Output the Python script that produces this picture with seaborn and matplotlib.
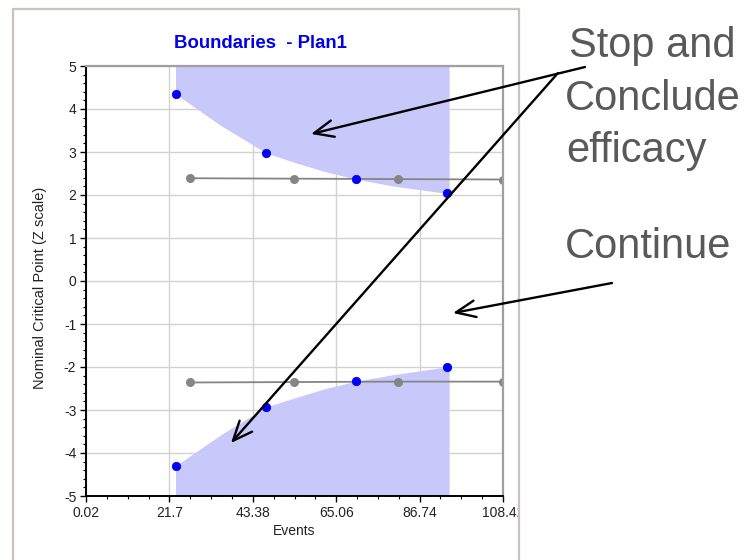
import numpy as np
import matplotlib
matplotlib.use('Agg')
import matplotlib.pyplot as plt
import seaborn as sns
import pandas as pd
from matplotlib.patches import Rectangle, FancyArrowPatch
from matplotlib.ticker import FixedLocator
from matplotlib.transforms import Bbox, TransformedBbox

# ---------------- data ----------------
events_bound = [23.3, 46.8, 70.2, 93.8]
upper_z = [4.35, 2.98, 2.37, 2.05]
lower_z = [-4.30, -2.93, -2.33, -2.00]

events_ref = [27.0, 54.1, 81.1, 108.42]
ref_upper = [2.39, 2.38, 2.37, 2.36]
ref_lower = [-2.36, -2.35, -2.34, -2.34]

# edges of the shaded stopping regions
shade_x = [23.3, 35.0, 46.8, 53.8, 62.7, 70.2, 79.8, 94.4]
shade_upper = [4.35, 3.62, 2.98, 2.77, 2.53, 2.37, 2.21, 2.03]
shade_lower = [-4.30, -3.58, -2.93, -2.73, -2.49, -2.33, -2.18, -1.99]

x_ticks = [0.02, 21.7, 43.38, 65.06, 86.74, 108.42]
x_tick_labels = ["0.02", "21.7", "43.38", "65.06", "86.74", "108.42"]
y_ticks = [-5, -4, -3, -2, -1, 0, 1, 2, 3, 4, 5]

title = "Boundaries  - Plan1"
xlabel = "Events"
ylabel = "Nominal Critical Point (Z scale)"
note_stop = ["Stop and", "Conclude", "efficacy"]
note_continue = "Continue"

# ---------------- style ----------------
sns.set_theme(style="white")
plt.rcParams['font.family'] = ['Liberation Sans', 'DejaVu Sans']

W, H = 751, 560
fig = plt.figure(figsize=(W / 100, H / 100), dpi=100)
fig.patch.set_facecolor('white')

def fx(px):
    return px / W

def fy(py):
    return 1 - py / H

ax = fig.add_axes([fx(86), fy(496), (503 - 86) / W, (496 - 66) / H])
ax.set_facecolor('white')

shade_col = '#c8c8fa'
ax.fill_between(shade_x, shade_upper, 5, color=shade_col, lw=0, zorder=1)
ax.fill_between(shade_x, shade_lower, -5, color=shade_col, lw=0, zorder=1)

ref_df = pd.DataFrame({'events': events_ref * 2,
                       'z': ref_upper + ref_lower,
                       'side': ['upper'] * 4 + ['lower'] * 4})
sns.lineplot(data=ref_df, x='events', y='z', units='side', estimator=None,
             color='#858585', lw=1.3, marker='o', markersize=6.5,
             markeredgewidth=0, ax=ax, zorder=2, legend=False)

bound_df = pd.DataFrame({'events': events_bound * 2, 'z': upper_z + lower_z})
sns.scatterplot(data=bound_df, x='events', y='z', color='#0000ff', s=36,
                marker='o', edgecolor='#0000ff', linewidth=0.6, ax=ax,
                zorder=3, legend=False)

ax.set_xlim(0.02, 108.42)
ax.set_ylim(-5, 5)
ax.set_xticks(x_ticks)
ax.set_xticklabels(x_tick_labels)
ax.set_yticks(y_ticks)
ax.set_yticklabels([str(v) for v in y_ticks])
ax.xaxis.set_minor_locator(FixedLocator(np.linspace(0.02, 108.42, 21)))
ax.yaxis.set_minor_locator(FixedLocator(np.linspace(-5, 5, 51)))

ax.set_axisbelow(True)
ax.grid(True, which='major', color='#d2d2d2', lw=1.0)
ax.tick_params(which='major', direction='out', length=4, width=1,
               color='black', labelsize=10, labelcolor='#222222', pad=3,
               left=True, bottom=True)
ax.tick_params(which='minor', direction='out', length=2.2, width=0.8,
               color='black', left=True, bottom=True)

for s in ['left', 'bottom']:
    ax.spines[s].set_color('black')
    ax.spines[s].set_linewidth(1.4)
for s in ['top', 'right']:
    ax.spines[s].set_color('#a0a0a0')
    ax.spines[s].set_linewidth(1.6)

ax.set_xlabel(xlabel, fontsize=10, color='#222222')
ax.set_ylabel(ylabel, fontsize=10.5, color='#222222')
ax.xaxis.set_label_coords(0.5, -0.082)
ax.xaxis.label.set_va('center')
ax.yaxis.set_label_coords(-0.110, 0.485)
ax.yaxis.label.set_va('center')

# clip the x tick labels at the panel frame
clip = TransformedBbox(Bbox([[0, 0], [fx(519), 1]]), fig.transFigure)
for t in ax.xaxis.get_major_ticks():
    t.label1.set_clip_box(clip)
    t.label1.set_clip_on(True)

fig.text(fx(260), fy(44), title, ha='center', va='center', fontsize=13.4,
         fontweight='bold', color='#0000ee')

# panel frame
frame = Rectangle((fx(13), fy(575)), fx(519) - fx(13), fy(9) - fy(575),
                  transform=fig.transFigure, fill=False,
                  edgecolor='#c8c4ba', lw=1.6, zorder=5)
fig.add_artist(frame)

# annotations
txt_col = '#595959'
fig.text(fx(569), fy(57), note_stop[0], fontsize=30, color=txt_col, va='baseline', ha='left')
fig.text(fx(565), fy(110), note_stop[1], fontsize=30, color=txt_col, va='baseline', ha='left')
fig.text(fx(566), fy(162), note_stop[2], fontsize=30, color=txt_col, va='baseline', ha='left')
fig.text(fx(565), fy(258), note_continue, fontsize=30, color=txt_col, va='baseline', ha='left')

astyle = '->,head_length=1.4,head_width=0.6'
for (a, b) in [((585, 67), (311, 134)),
               ((558, 73), (231, 443)),
               ((612, 283), (453, 313))]:
    arr = FancyArrowPatch(posA=(fx(a[0]), fy(a[1])), posB=(fx(b[0]), fy(b[1])),
                          transform=fig.transFigure, arrowstyle=astyle,
                          mutation_scale=10, color='black', lw=1.7,
                          shrinkA=0, shrinkB=0, zorder=10)
    fig.add_artist(arr)

fig.savefig('out.png', dpi=100, facecolor='white')
